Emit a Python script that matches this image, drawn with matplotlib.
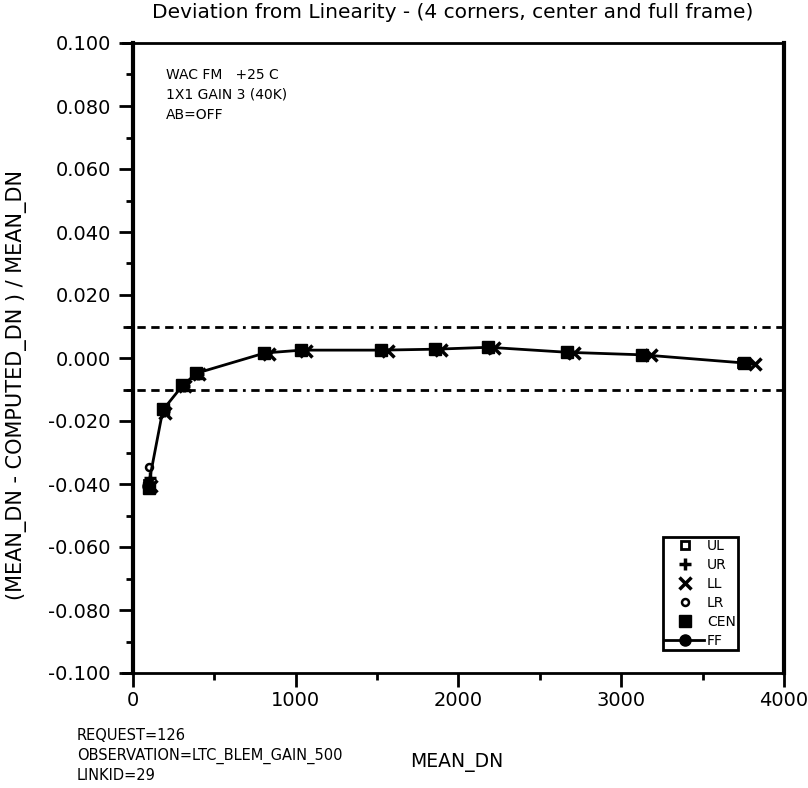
import numpy as np
import matplotlib.pyplot as plt
from matplotlib.ticker import MultipleLocator
from matplotlib.lines import Line2D

# full frame (FF) values
ff_x = [95, 184, 307, 393, 811, 1038, 1530, 1862, 2187, 2673, 3134, 3760]
ff_y = [-0.0405, -0.0165, -0.0086, -0.0048, 0.0016, 0.0025, 0.0025, 0.0028, 0.0034, 0.0018, 0.0010, -0.0016]

# corners and center (small offsets around each FF point)
ul_x = [90, 178, 300, 386, 800, 1028, 1518, 1850, 2175, 2662, 3122, 3745]
ul_y = [-0.0400, -0.0160, -0.0085, -0.0045, 0.0017, 0.0026, 0.0026, 0.0029, 0.0035, 0.0019, 0.0011, -0.0015]
ur_x = [102, 190, 312, 398, 818, 1045, 1540, 1872, 2195, 2682, 3142, 3770]
ur_y = [-0.0380, -0.0168, -0.0088, -0.0050, 0.0015, 0.0024, 0.0024, 0.0027, 0.0033, 0.0017, 0.0009, -0.0017]
ll_x = [110, 200, 320, 408, 835, 1062, 1565, 1895, 2220, 2710, 3180, 3820]
ll_y = [-0.0405, -0.0175, -0.0090, -0.0052, 0.0014, 0.0023, 0.0023, 0.0026, 0.0032, 0.0016, 0.0008, -0.0019]
lr_x = [98, 186, 305, 392, 808, 1036, 1528, 1860, 2185, 2670, 3130, 3758]
lr_y = [-0.0345, -0.0158, -0.0084, -0.0044, 0.0018, 0.0026, 0.0026, 0.0029, 0.0035, 0.0019, 0.0011, -0.0014]
cen_x = [96, 182, 304, 390, 806, 1034, 1525, 1858, 2183, 2668, 3130, 3755]
cen_y = [-0.0412, -0.0163, -0.0087, -0.0047, 0.0017, 0.0025, 0.0025, 0.0028, 0.0035, 0.0018, 0.0010, -0.0016]

fig = plt.figure(figsize=(8.08, 7.88), dpi=100)
ax = fig.add_axes([123 / 808, 1 - 673 / 788, (784 - 123) / 808, (673 - 43) / 788])

ax.plot(ul_x, ul_y, ls='none', marker='s', ms=6, mfc='white', mec='black', mew=2)
ax.plot(ur_x, ur_y, ls='none', marker='+', ms=9, mec='black', mew=2.5)
ax.plot(ll_x, ll_y, ls='none', marker='x', ms=9, mec='black', mew=2.5)
ax.plot(lr_x, lr_y, ls='none', marker='o', ms=5, mfc='white', mec='black', mew=1.8)
ax.plot(cen_x, cen_y, ls='none', marker='s', ms=8, color='black')
ax.plot(ff_x, ff_y, '-', color='black', lw=2, marker='o', ms=8)

# +/- 1% limits
for lim in [0.01, -0.01]:
    ax.axhline(lim, color='black', lw=2, dashes=(3, 2, 3, 2, 3, 2, 3, 2, 1, 2))

ax.set_xlim(-61, 4000)
ax.set_ylim(-0.1, 0.1)
ax.spines['left'].set_position(('data', 0))
ax.spines['left'].set_linewidth(3)
ax.spines['right'].set_linewidth(3)
ax.spines['top'].set_linewidth(2)
ax.spines['bottom'].set_linewidth(2)

ax.set_xticks([0, 1000, 2000, 3000, 4000])
ax.xaxis.set_minor_locator(MultipleLocator(500))
ax.yaxis.set_major_locator(MultipleLocator(0.02))
ax.yaxis.set_minor_locator(MultipleLocator(0.01))
ax.set_yticklabels([f'{abs(v) if abs(v) < 1e-9 else v:.3f}' for v in ax.get_yticks()])
ax.tick_params(which='major', direction='out', length=10, width=2, labelsize=14)
ax.tick_params(axis='y', which='major', pad=6)
ax.tick_params(axis='x', which='major', pad=3)
ax.tick_params(which='minor', direction='out', length=5, width=2)
ax.tick_params(right=False, top=False)

fig.text(453 / 808, 1 - 13 / 788, 'Deviation from Linearity - (4 corners, center and full frame)',
         fontsize=14.5, ha='center', va='center')
ax.set_ylabel('(MEAN_DN - COMPUTED_DN ) / MEAN_DN', fontsize=15)
ax.yaxis.set_label_coords(-0.145, 0.457)
fig.text(457 / 808, 1 - 762 / 788, 'MEAN_DN', fontsize=13.5, ha='center', va='center')

ax.text(166 / 808, 1 - 75 / 788, 'WAC FM   +25 C', fontsize=10, transform=fig.transFigure, va='center')
ax.text(166 / 808, 1 - 95 / 788, '1X1 GAIN 3 (40K)', fontsize=10, transform=fig.transFigure, va='center')
ax.text(166 / 808, 1 - 115 / 788, 'AB=OFF', fontsize=10, transform=fig.transFigure, va='center')

fig.text(77 / 808, 1 - 736 / 788, 'REQUEST=126', fontsize=10.5, va='center')
fig.text(77 / 808, 1 - 756 / 788, 'OBSERVATION=LTC_BLEM_GAIN_500', fontsize=10.5, va='center')
fig.text(77 / 808, 1 - 776 / 788, 'LINKID=29', fontsize=10.5, va='center')

handles = [
    Line2D([], [], ls='none', marker='s', ms=6, mfc='white', mec='black', mew=2),
    Line2D([], [], ls='none', marker='+', ms=9, mec='black', mew=2.5),
    Line2D([], [], ls='none', marker='x', ms=9, mec='black', mew=2.5),
    Line2D([], [], ls='none', marker='o', ms=5, mfc='white', mec='black', mew=1.8),
    Line2D([], [], ls='none', marker='s', ms=8, color='black'),
    Line2D([], [], ls='-', lw=2, color='black', marker='o', ms=8),
]
labels = ['UL', 'UR', 'LL', 'LR', 'CEN', 'FF']
leg = ax.legend(handles, labels, loc='upper left', bbox_to_anchor=(663 / 808, 1 - 537 / 788),
                bbox_transform=fig.transFigure, fontsize=10, frameon=True, fancybox=False,
                edgecolor='black', framealpha=1, handlelength=2.8, handletextpad=0.2,
                labelspacing=0.36, borderpad=0.15, borderaxespad=0)
leg.get_frame().set_linewidth(2)

fig.savefig('out.png', dpi=100)
